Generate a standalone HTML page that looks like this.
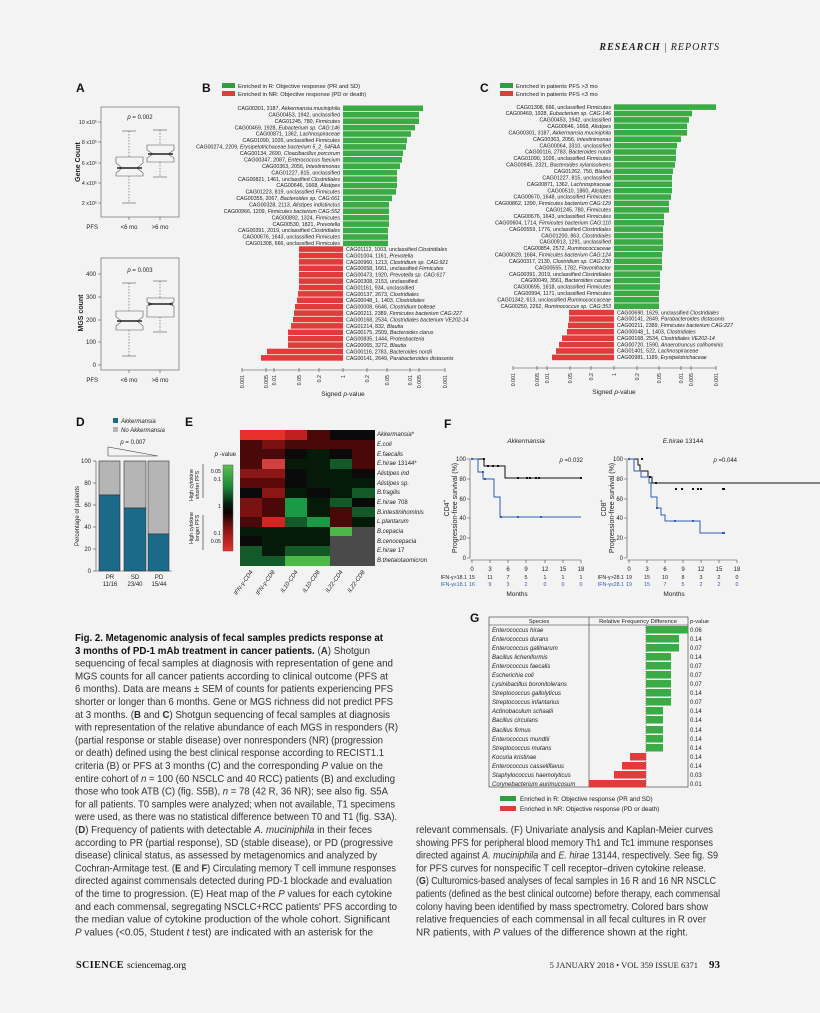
<!DOCTYPE html>
<html><head><meta charset="utf-8"><style>
html,body{margin:0;padding:0;background:#f3f3f3;}
svg{display:block;font-family:"Liberation Sans",sans-serif;}
.s{font-size:5.3px;fill:#222}
.t{font-size:6px;fill:#222}
.c{font-size:10.4px;fill:#333}
.L{font-size:12px;font-weight:bold;fill:#111}
</style></head><body>
<svg width="820" height="1013" viewBox="0 0 820 1013" xmlns="http://www.w3.org/2000/svg">
<rect width="820" height="1013" fill="#f3f3f3"/>
<text x="720" y="50" text-anchor="end" style="font-family:'Liberation Serif',serif;font-size:10px;font-weight:bold;font-style:italic;letter-spacing:1px" fill="#222">RESEARCH <tspan font-weight="normal" font-style="normal">|</tspan> <tspan font-weight="normal">REPORTS</tspan></text>

<!-- Panel labels -->
<text x="76" y="92" class="L">A</text><text x="202" y="92" class="L">B</text><text x="480" y="92" class="L">C</text>
<text x="76" y="426" class="L">D</text><text x="185" y="426" class="L">E</text><text x="444" y="428" class="L">F</text><text x="470" y="622" class="L">G</text>

<!-- Panel A -->
<g stroke="#555" stroke-width="0.6" fill="none">
<rect x="101" y="107" width="78" height="110"/>
<rect x="101" y="258" width="78" height="112"/>
<line x1="98" y1="122" x2="101" y2="122"/><line x1="98" y1="142" x2="101" y2="142"/><line x1="98" y1="163" x2="101" y2="163"/><line x1="98" y1="183" x2="101" y2="183"/><line x1="98" y1="203" x2="101" y2="203"/>
<line x1="98" y1="274" x2="101" y2="274"/><line x1="98" y1="297" x2="101" y2="297"/><line x1="98" y1="320" x2="101" y2="320"/><line x1="98" y1="342" x2="101" y2="342"/><line x1="98" y1="365" x2="101" y2="365"/>
<line x1="129" y1="217" x2="129" y2="220"/><line x1="160" y1="217" x2="160" y2="220"/><line x1="129" y1="370" x2="129" y2="373"/><line x1="160" y1="370" x2="160" y2="373"/>
<line x1="129" y1="131" x2="129" y2="157" stroke-dasharray="1.5,1.5"/><line x1="129" y1="176" x2="129" y2="203" stroke-dasharray="1.5,1.5"/>
<line x1="122" y1="131" x2="136" y2="131"/><line x1="122" y1="203" x2="136" y2="203"/>
<path d="M116 157 H143 V163 L137 168 L143 173 V176 H116 V173 L122 168 L116 163 Z"/>
<line x1="160" y1="130" x2="160" y2="145" stroke-dasharray="1.5,1.5"/><line x1="160" y1="162" x2="160" y2="177" stroke-dasharray="1.5,1.5"/>
<line x1="153" y1="130" x2="167" y2="130"/><line x1="153" y1="177" x2="167" y2="177"/>
<path d="M147 145 H174 V150 L168 154 L174 158 V162 H147 V158 L153 154 L147 150 Z"/>
<line x1="129" y1="283" x2="129" y2="311" stroke-dasharray="1.5,1.5"/><line x1="129" y1="330" x2="129" y2="356" stroke-dasharray="1.5,1.5"/>
<line x1="122" y1="283" x2="136" y2="283"/><line x1="122" y1="356" x2="136" y2="356"/>
<path d="M116 311 H143 V317 L137 321 L143 326 V330 H116 V326 L122 321 L116 317 Z"/>
<line x1="160" y1="281" x2="160" y2="298" stroke-dasharray="1.5,1.5"/><line x1="160" y1="317" x2="160" y2="332" stroke-dasharray="1.5,1.5"/>
<line x1="153" y1="281" x2="167" y2="281"/><line x1="153" y1="332" x2="167" y2="332"/>
<path d="M147 298 H174 V302 L168 304 L174 306 V317 H147 V306 L153 304 L147 302 Z"/>
</g>
<g stroke="#222" stroke-width="1.4"><line x1="117" y1="168" x2="142" y2="168"/><line x1="148" y1="154" x2="173" y2="154"/><line x1="117" y1="321" x2="142" y2="321"/><line x1="148" y1="304" x2="173" y2="304"/></g>
<g class="s" text-anchor="end"><text x="97" y="124">10 x10⁵</text><text x="97" y="144">8 x10⁵</text><text x="97" y="165">6 x10⁵</text><text x="97" y="185">4 x10⁵</text><text x="97" y="205">2 x10⁵</text></g>
<g class="t" text-anchor="end">
<text x="96" y="276">400</text><text x="96" y="299">300</text><text x="96" y="322">200</text><text x="96" y="344">100</text><text x="96" y="367">0</text></g>
<g class="t"><text x="98" y="229" text-anchor="end">PFS</text><text x="129" y="229" text-anchor="middle">&lt;6 mo</text><text x="160" y="229" text-anchor="middle">&gt;6 mo</text>
<text x="98" y="382" text-anchor="end">PFS</text><text x="129" y="382" text-anchor="middle">&lt;6 mo</text><text x="160" y="382" text-anchor="middle">&gt;6 mo</text>
<text x="140" y="119" text-anchor="middle"><tspan font-style="italic">p</tspan> = 0.002</text><text x="140" y="272" text-anchor="middle"><tspan font-style="italic">p</tspan> = 0.003</text></g>
<text transform="translate(80,162) rotate(-90)" text-anchor="middle" style="font-size:7px;font-weight:bold" fill="#222">Gene Count</text>
<text transform="translate(83,313) rotate(-90)" text-anchor="middle" style="font-size:7px;font-weight:bold" fill="#222">MGS count</text>

<!-- Panel B -->
<rect x="222" y="83" width="13" height="5" fill="#2e9e3e"/><rect x="222" y="91" width="13" height="5" fill="#e23b3b"/>
<text x="238" y="88" style="font-size:5.8px" fill="#222">Enriched in R: Objective response (PR and SD)</text>
<text x="238" y="96" style="font-size:5.8px" fill="#222">Enriched in NR: Objective response (PD or death)</text>
<g fill="#3bab45">
<rect x="343" y="105.5" width="80" height="5.6"/><rect x="343" y="111.9" width="76" height="5.6"/><rect x="343" y="118.4" width="76" height="5.6"/><rect x="343" y="124.8" width="72" height="5.6"/><rect x="343" y="131.2" width="68" height="5.6"/><rect x="343" y="137.7" width="64" height="5.6"/><rect x="343" y="144.1" width="63" height="5.6"/><rect x="343" y="150.5" width="60" height="5.6"/><rect x="343" y="157" width="59" height="5.6"/><rect x="343" y="163.4" width="57" height="5.6"/><rect x="343" y="169.8" width="54" height="5.6"/><rect x="343" y="176.3" width="54" height="5.6"/><rect x="343" y="182.7" width="54" height="5.6"/><rect x="343" y="189.1" width="53" height="5.6"/><rect x="343" y="195.6" width="49" height="5.6"/><rect x="343" y="202" width="46" height="5.6"/><rect x="343" y="208.4" width="46" height="5.6"/><rect x="343" y="214.9" width="46" height="5.6"/><rect x="343" y="221.3" width="46" height="5.6"/><rect x="343" y="227.7" width="45" height="5.6"/><rect x="343" y="234.2" width="45" height="5.6"/><rect x="343" y="240.6" width="45" height="5.6"/>
</g>
<g class="s" text-anchor="end">
<text x="340" y="110">CAG00301, 3187, <tspan font-style="italic">Akkermansia muciniphila</tspan></text>
<text x="340" y="116.4">CAG00453, 1942, unclassified</text>
<text x="340" y="122.9">CAG01245, 780, <tspan font-style="italic">Firmicutes</tspan></text>
<text x="340" y="129.3">CAG00469, 1928, <tspan font-style="italic">Eubacterium sp. CAG:146</tspan></text>
<text x="340" y="135.7">CAG00871, 1362, <tspan font-style="italic">Lachnospiraceae</tspan></text>
<text x="340" y="142.2">CAG01090, 1026, unclassified <tspan font-style="italic">Firmicutes</tspan></text>
<text x="340" y="148.6">CAG00274, 2209, <tspan font-style="italic">Erysipelotrichaceae bacterium 5_2_54FAA</tspan></text>
<text x="340" y="155">CAG00134, 2690, <tspan font-style="italic">Cloacibacillus porcorum</tspan></text>
<text x="340" y="161.5">CAG00347, 2087, <tspan font-style="italic">Enterococcus faecium</tspan></text>
<text x="340" y="167.9">CAG00363, 2056, <tspan font-style="italic">Intestinimonas</tspan></text>
<text x="340" y="174.3">CAG01227, 815, unclassified</text>
<text x="340" y="180.8">CAG00821, 1461, unclassified <tspan font-style="italic">Clostridiales</tspan></text>
<text x="340" y="187.2">CAG00646, 1668, <tspan font-style="italic">Alistipes</tspan></text>
<text x="340" y="193.6">CAG01223, 819, unclassified <tspan font-style="italic">Firmicutes</tspan></text>
<text x="340" y="200.1">CAG00355, 2067, <tspan font-style="italic">Bacteroides sp. CAG:661</tspan></text>
<text x="340" y="206.5">CAG00328, 2113, <tspan font-style="italic">Alistipes indistinctus</tspan></text>
<text x="340" y="212.9">CAG00966, 1209, <tspan font-style="italic">Firmicutes bacterium CAG:552</tspan></text>
<text x="340" y="219.4">CAG00892, 1324, <tspan font-style="italic">Firmicutes</tspan></text>
<text x="340" y="225.8">CAG00530, 1821, <tspan font-style="italic">Prevotella</tspan></text>
<text x="340" y="232.2">CAG00391, 2019, unclassified <tspan font-style="italic">Clostridiales</tspan></text>
<text x="340" y="238.7">CAG00676, 1643, unclassified <tspan font-style="italic">Firmicutes</tspan></text>
<text x="340" y="245.1">CAG01308, 666, unclassified <tspan font-style="italic">Firmicutes</tspan></text>
</g>
<g fill="#e23b3b">
<rect x="299" y="246.3" width="44" height="5.6"/><rect x="299" y="252.7" width="44" height="5.6"/><rect x="299" y="259.1" width="44" height="5.6"/><rect x="299" y="265.5" width="44" height="5.6"/><rect x="299" y="271.9" width="44" height="5.6"/><rect x="299" y="278.3" width="44" height="5.6"/><rect x="299" y="284.7" width="44" height="5.6"/><rect x="298" y="291.1" width="45" height="5.6"/><rect x="297" y="297.5" width="46" height="5.6"/><rect x="295" y="303.9" width="48" height="5.6"/><rect x="294" y="310.3" width="49" height="5.6"/><rect x="293" y="316.7" width="50" height="5.6"/><rect x="291" y="323.1" width="52" height="5.6"/><rect x="288" y="329.5" width="55" height="5.6"/><rect x="288" y="335.9" width="55" height="5.6"/><rect x="288" y="342.3" width="55" height="5.6"/><rect x="267" y="348.7" width="76" height="5.6"/><rect x="261" y="355.1" width="82" height="5.6"/>
</g>
<g class="s">
<text x="346" y="251">CAG01112, 1003, unclassified <tspan font-style="italic">Clostridiales</tspan></text>
<text x="346" y="257.4">CAG01004, 1161, <tspan font-style="italic">Prevotella</tspan></text>
<text x="346" y="263.8">CAG00960, 1213, <tspan font-style="italic">Clostridium sp. CAG:921</tspan></text>
<text x="346" y="270.2">CAG00658, 1661, unclassified <tspan font-style="italic">Firmicutes</tspan></text>
<text x="346" y="276.6">CAG00473, 1920, <tspan font-style="italic">Prevotella sp. CAG:617</tspan></text>
<text x="346" y="283">CAG00308, 2153, unclassified</text>
<text x="346" y="289.4">CAG01161, 934, unclassified</text>
<text x="346" y="295.8">CAG00137, 2673, <tspan font-style="italic">Clostridiales</tspan></text>
<text x="346" y="302.2">CAG00048_1, 1403, <tspan font-style="italic">Clostridiales</tspan></text>
<text x="346" y="308.6">CAG00008, 6646, <tspan font-style="italic">Clostridium bolteae</tspan></text>
<text x="346" y="315">CAG00211, 2389, <tspan font-style="italic">Firmicutes bacterium CAG:227</tspan></text>
<text x="346" y="321.4">CAG00168, 2534, <tspan font-style="italic">Clostridiales bacterium VE202-14</tspan></text>
<text x="346" y="327.8">CAG01214, 832, <tspan font-style="italic">Blautia</tspan></text>
<text x="346" y="334.2">CAG00175, 2509, <tspan font-style="italic">Bacteroides clarus</tspan></text>
<text x="346" y="340.6">CAG00835, 1444, <tspan font-style="italic">Proteobacteria</tspan></text>
<text x="346" y="347">CAG00065, 3272, <tspan font-style="italic">Blautia</tspan></text>
<text x="346" y="353.4">CAG00116, 2783, <tspan font-style="italic">Bacteroides nordii</tspan></text>
<text x="346" y="359.8">CAG00141, 2649, <tspan font-style="italic">Parabacteroides distasonis</tspan></text>
</g>
<g stroke="#444" stroke-width="0.6"><line x1="242" y1="370" x2="445" y2="370"/>
<line x1="242" y1="368" x2="242" y2="372"/><line x1="266" y1="368" x2="266" y2="372"/><line x1="274" y1="368" x2="274" y2="372"/><line x1="299" y1="368" x2="299" y2="372"/><line x1="319" y1="368" x2="319" y2="372"/><line x1="343" y1="368" x2="343" y2="372"/><line x1="367" y1="368" x2="367" y2="372"/><line x1="387" y1="368" x2="387" y2="372"/><line x1="410" y1="368" x2="410" y2="372"/><line x1="419" y1="368" x2="419" y2="372"/><line x1="445" y1="368" x2="445" y2="372"/></g>
<g class="s" text-anchor="end">
<text transform="translate(244,375) rotate(-90)">0.001</text><text transform="translate(268,375) rotate(-90)">0.005</text><text transform="translate(276,375) rotate(-90)">0.01</text><text transform="translate(301,375) rotate(-90)">0.05</text><text transform="translate(321,375) rotate(-90)">0.2</text><text transform="translate(345,375) rotate(-90)">1</text><text transform="translate(369,375) rotate(-90)">0.2</text><text transform="translate(389,375) rotate(-90)">0.05</text><text transform="translate(412,375) rotate(-90)">0.01</text><text transform="translate(421,375) rotate(-90)">0.005</text><text transform="translate(447,375) rotate(-90)">0.001</text></g>
<text x="343" y="396" text-anchor="middle" style="font-size:6.5px" fill="#222">Signed <tspan font-style="italic">p</tspan>-value</text>

<!-- Panel C -->
<rect x="500" y="83" width="13" height="5" fill="#2e9e3e"/><rect x="500" y="91" width="13" height="5" fill="#e23b3b"/>
<text x="516" y="88" style="font-size:5.8px" fill="#222">Enriched in patients PFS &gt;3 mo</text>
<text x="516" y="96" style="font-size:5.8px" fill="#222">Enriched in patients PFS &lt;3 mo</text>
<g fill="#3bab45">
<rect x="614" y="104.3" width="102" height="5.6"/><rect x="614" y="110.7" width="78" height="5.6"/><rect x="614" y="117.1" width="75" height="5.6"/><rect x="614" y="123.5" width="73" height="5.6"/><rect x="614" y="130" width="73" height="5.6"/><rect x="614" y="136.4" width="67" height="5.6"/><rect x="614" y="142.8" width="63" height="5.6"/><rect x="614" y="149.2" width="62" height="5.6"/><rect x="614" y="155.7" width="62" height="5.6"/><rect x="614" y="162.1" width="61" height="5.6"/><rect x="614" y="168.5" width="59" height="5.6"/><rect x="614" y="174.9" width="58" height="5.6"/><rect x="614" y="181.4" width="58" height="5.6"/><rect x="614" y="187.8" width="58" height="5.6"/><rect x="614" y="194.2" width="57" height="5.6"/><rect x="614" y="200.6" width="55" height="5.6"/><rect x="614" y="207.1" width="55" height="5.6"/><rect x="614" y="213.5" width="50" height="5.6"/><rect x="614" y="219.9" width="50" height="5.6"/><rect x="614" y="226.3" width="49" height="5.6"/><rect x="614" y="232.8" width="49" height="5.6"/><rect x="614" y="239.2" width="49" height="5.6"/><rect x="614" y="245.6" width="49" height="5.6"/><rect x="614" y="252" width="48" height="5.6"/><rect x="614" y="258.5" width="48" height="5.6"/><rect x="614" y="264.9" width="48" height="5.6"/><rect x="614" y="271.3" width="46" height="5.6"/><rect x="614" y="277.7" width="46" height="5.6"/><rect x="614" y="284.2" width="46" height="5.6"/><rect x="614" y="290.6" width="45" height="5.6"/><rect x="614" y="297" width="45" height="5.6"/><rect x="614" y="303.4" width="45" height="5.6"/>
</g>
<g class="s" text-anchor="end">
<text x="611" y="108.8">CAG01308, 666, unclassified <tspan font-style="italic">Firmicutes</tspan></text>
<text x="611" y="115.2">CAG00469, 1928, <tspan font-style="italic">Eubacterium sp. CAG:146</tspan></text>
<text x="611" y="121.6">CAG00453, 1942, unclassified</text>
<text x="611" y="128">CAG00646, 1668, <tspan font-style="italic">Alistipes</tspan></text>
<text x="611" y="134.5">CAG00301, 3187, <tspan font-style="italic">Akkermansia muciniphila</tspan></text>
<text x="611" y="140.9">CAG00363, 2056, <tspan font-style="italic">Intestinimonas</tspan></text>
<text x="611" y="147.3">CAG00064, 3310, unclassified</text>
<text x="611" y="153.7">CAG00116, 2783, <tspan font-style="italic">Bacteroides nordii</tspan></text>
<text x="611" y="160.2">CAG01090, 1026, unclassified <tspan font-style="italic">Firmicutes</tspan></text>
<text x="611" y="166.6">CAG00945, 2321, <tspan font-style="italic">Bacteroides xylanisolvens</tspan></text>
<text x="611" y="173">CAG01262, 750, <tspan font-style="italic">Blautia</tspan></text>
<text x="611" y="179.4">CAG01227, 815, unclassified</text>
<text x="611" y="185.9">CAG00871, 1362, <tspan font-style="italic">Lachnospiraceae</tspan></text>
<text x="611" y="192.3">CAG00510, 1860, <tspan font-style="italic">Alistipes</tspan></text>
<text x="611" y="198.7">CAG00670, 1648, unclassified <tspan font-style="italic">Firmicutes</tspan></text>
<text x="611" y="205.1">CAG00862, 1390, <tspan font-style="italic">Firmicutes bacterium CAG:129</tspan></text>
<text x="611" y="211.6">CAG01245, 780, <tspan font-style="italic">Firmicutes</tspan></text>
<text x="611" y="218">CAG00676, 1643, unclassified <tspan font-style="italic">Firmicutes</tspan></text>
<text x="611" y="224.4">CAG00604, 1714, <tspan font-style="italic">Firmicutes bacterium CAG:110</tspan></text>
<text x="611" y="230.8">CAG00559, 1776, unclassified <tspan font-style="italic">Clostridiales</tspan></text>
<text x="611" y="237.3">CAG01200, 863, <tspan font-style="italic">Clostridiales</tspan></text>
<text x="611" y="243.7">CAG00913, 1291, unclassified</text>
<text x="611" y="250.1">CAG00854, 2572, <tspan font-style="italic">Ruminococcaceae</tspan></text>
<text x="611" y="256.5">CAG00629, 1684, <tspan font-style="italic">Firmicutes bacterium CAG:124</tspan></text>
<text x="611" y="263">CAG00317, 2130, <tspan font-style="italic">Clostridium sp. CAG:230</tspan></text>
<text x="611" y="269.4">CAG00555, 1782, <tspan font-style="italic">Flavonifractor</tspan></text>
<text x="611" y="275.8">CAG00391, 2019, unclassified <tspan font-style="italic">Clostridiales</tspan></text>
<text x="611" y="282.2">CAG00049, 3561, <tspan font-style="italic">Bacteroides caccae</tspan></text>
<text x="611" y="288.7">CAG00695, 1618, unclassified <tspan font-style="italic">Firmicutes</tspan></text>
<text x="611" y="295.1">CAG00994, 1171, unclassified <tspan font-style="italic">Firmicutes</tspan></text>
<text x="611" y="301.5">CAG01342, 613, unclassified <tspan font-style="italic">Ruminococcaceae</tspan></text>
<text x="611" y="307.9">CAG00250, 2262, <tspan font-style="italic">Ruminococcus sp. CAG:353</tspan></text>
</g>
<g fill="#e23b3b">
<rect x="569" y="309.8" width="45" height="5.6"/><rect x="569" y="316.2" width="45" height="5.6"/><rect x="568" y="322.6" width="46" height="5.6"/><rect x="567" y="329" width="47" height="5.6"/><rect x="562" y="335.4" width="52" height="5.6"/><rect x="559" y="341.8" width="55" height="5.6"/><rect x="556" y="348.2" width="58" height="5.6"/><rect x="552" y="354.6" width="62" height="5.6"/>
</g>
<g class="s">
<text x="617" y="314.3">CAG00690, 1629, unclassified <tspan font-style="italic">Clostridiales</tspan></text>
<text x="617" y="320.7">CAG00141, 2649, <tspan font-style="italic">Parabacteroides distasonis</tspan></text>
<text x="617" y="327.1">CAG00211, 2389, <tspan font-style="italic">Firmicutes bacterium CAG:227</tspan></text>
<text x="617" y="333.5">CAG00048_1, 1403, <tspan font-style="italic">Clostridiales</tspan></text>
<text x="617" y="339.9">CAG00168, 2534, <tspan font-style="italic">Clostridiales VE202-14</tspan></text>
<text x="617" y="346.3">CAG00720, 1590, <tspan font-style="italic">Anaerotruncus colihominis</tspan></text>
<text x="617" y="352.7">CAG01401, 522, <tspan font-style="italic">Lachnospiraceae</tspan></text>
<text x="617" y="359.1">CAG00981, 1189, <tspan font-style="italic">Erysipelotrichaceae</tspan></text>
</g>
<g stroke="#444" stroke-width="0.6"><line x1="513" y1="368" x2="716" y2="368"/>
<line x1="513" y1="366" x2="513" y2="370"/><line x1="537" y1="366" x2="537" y2="370"/><line x1="547" y1="366" x2="547" y2="370"/><line x1="570" y1="366" x2="570" y2="370"/><line x1="591" y1="366" x2="591" y2="370"/><line x1="614" y1="366" x2="614" y2="370"/><line x1="637" y1="366" x2="637" y2="370"/><line x1="659" y1="366" x2="659" y2="370"/><line x1="681" y1="366" x2="681" y2="370"/><line x1="691" y1="366" x2="691" y2="370"/><line x1="716" y1="366" x2="716" y2="370"/></g>
<g class="s" text-anchor="end">
<text transform="translate(515,373) rotate(-90)">0.001</text><text transform="translate(539,373) rotate(-90)">0.005</text><text transform="translate(549,373) rotate(-90)">0.01</text><text transform="translate(572,373) rotate(-90)">0.05</text><text transform="translate(593,373) rotate(-90)">0.2</text><text transform="translate(616,373) rotate(-90)">1</text><text transform="translate(639,373) rotate(-90)">0.2</text><text transform="translate(661,373) rotate(-90)">0.05</text><text transform="translate(683,373) rotate(-90)">0.01</text><text transform="translate(693,373) rotate(-90)">0.005</text><text transform="translate(718,373) rotate(-90)">0.001</text></g>
<text x="614" y="394" text-anchor="middle" style="font-size:6.5px" fill="#222">Signed <tspan font-style="italic">p</tspan>-value</text>

<!-- Panel D -->
<rect x="113" y="418" width="5" height="5" fill="#1b6a8a"/><rect x="113" y="427" width="5" height="5" fill="#b5b5b5"/>
<text x="121" y="423" class="t" font-style="italic">Akkermansia</text><text x="121" y="432" class="t" font-style="italic">No Akkermansia</text>
<text x="133" y="444" class="t" text-anchor="middle"><tspan font-style="italic">p</tspan> = 0.007</text>
<path d="M108 447 L108 456 L158 456 Z" fill="none" stroke="#444" stroke-width="0.6"/>
<g stroke="#444" stroke-width="0.6"><line x1="96" y1="461" x2="96" y2="571"/><line x1="96" y1="571" x2="172" y2="571"/>
<line x1="93" y1="461" x2="96" y2="461"/><line x1="93" y1="483" x2="96" y2="483"/><line x1="93" y1="505" x2="96" y2="505"/><line x1="93" y1="527" x2="96" y2="527"/><line x1="93" y1="549" x2="96" y2="549"/><line x1="93" y1="571" x2="96" y2="571"/></g>
<g stroke="#333" stroke-width="0.6">
<rect x="99" y="461" width="21" height="34" fill="#b5b5b5"/><rect x="99" y="495" width="21" height="76" fill="#1b6a8a"/>
<rect x="124" y="461" width="22" height="47" fill="#b5b5b5"/><rect x="124" y="508" width="22" height="63" fill="#1b6a8a"/>
<rect x="148" y="461" width="21" height="73" fill="#b5b5b5"/><rect x="148" y="534" width="21" height="37" fill="#1b6a8a"/></g>
<g class="t" text-anchor="end"><text x="91" y="463">100</text><text x="91" y="485">80</text><text x="91" y="507">60</text><text x="91" y="529">40</text><text x="91" y="551">20</text><text x="91" y="573">0</text></g>
<text transform="translate(79,516) rotate(-90)" text-anchor="middle" class="t">Percentage of patients</text>
<g class="t" text-anchor="middle"><text x="110" y="579">PR</text><text x="135" y="579">SD</text><text x="159" y="579">PD</text><text x="110" y="586">11/16</text><text x="135" y="586">23/40</text><text x="159" y="586">15/44</text></g>

<!-- Panel E heatmap -->
<g>
<rect x="240" y="430" width="23" height="10" fill="#e8302a"/><rect x="262" y="430" width="23" height="10" fill="#e8302a"/><rect x="285" y="430" width="23" height="10" fill="#c02020"/><rect x="307" y="430" width="23" height="10" fill="#4a0808"/><rect x="330" y="430" width="23" height="10" fill="#0a0a0a"/><rect x="352" y="430" width="23" height="10" fill="#0a0a0a"/>
<rect x="240" y="440" width="23" height="10" fill="#4a0808"/><rect x="262" y="440" width="23" height="10" fill="#7a1010"/><rect x="285" y="440" width="23" height="10" fill="#4a0808"/><rect x="307" y="440" width="23" height="10" fill="#4a0808"/><rect x="330" y="440" width="23" height="10" fill="#4a0808"/><rect x="352" y="440" width="23" height="10" fill="#4a0808"/>
<rect x="240" y="449" width="23" height="10" fill="#4a0808"/><rect x="262" y="449" width="23" height="10" fill="#4a0808"/><rect x="285" y="449" width="23" height="10" fill="#0a0a0a"/><rect x="307" y="449" width="23" height="10" fill="#061a0a"/><rect x="330" y="449" width="23" height="10" fill="#0a0a0a"/><rect x="352" y="449" width="23" height="10" fill="#4a0808"/>
<rect x="240" y="459" width="23" height="10" fill="#4a0808"/><rect x="262" y="459" width="23" height="10" fill="#d04040"/><rect x="285" y="459" width="23" height="10" fill="#061a0a"/><rect x="307" y="459" width="23" height="10" fill="#061a0a"/><rect x="330" y="459" width="23" height="10" fill="#145a28"/><rect x="352" y="459" width="23" height="10" fill="#4a0808"/>
<rect x="240" y="469" width="23" height="10" fill="#8a1616"/><rect x="262" y="469" width="23" height="10" fill="#8a1616"/><rect x="285" y="469" width="23" height="10" fill="#0a0a0a"/><rect x="307" y="469" width="23" height="10" fill="#061a0a"/><rect x="330" y="469" width="23" height="10" fill="#061a0a"/><rect x="352" y="469" width="23" height="10" fill="#0a0a0a"/>
<rect x="240" y="478" width="23" height="10" fill="#5a0a0a"/><rect x="262" y="478" width="23" height="10" fill="#5a0a0a"/><rect x="285" y="478" width="23" height="10" fill="#0a0a0a"/><rect x="307" y="478" width="23" height="10" fill="#061a0a"/><rect x="330" y="478" width="23" height="10" fill="#061a0a"/><rect x="352" y="478" width="23" height="10" fill="#061a0a"/>
<rect x="240" y="488" width="23" height="10" fill="#0a0a0a"/><rect x="262" y="488" width="23" height="10" fill="#8a1616"/><rect x="285" y="488" width="23" height="10" fill="#061a0a"/><rect x="307" y="488" width="23" height="10" fill="#0a0a0a"/><rect x="330" y="488" width="23" height="10" fill="#061a0a"/><rect x="352" y="488" width="23" height="10" fill="#145a28"/>
<rect x="240" y="498" width="23" height="10" fill="#7a1212"/><rect x="262" y="498" width="23" height="10" fill="#4a0808"/><rect x="285" y="498" width="23" height="10" fill="#1a9a44"/><rect x="307" y="498" width="23" height="10" fill="#061a0a"/><rect x="330" y="498" width="23" height="10" fill="#145a28"/><rect x="352" y="498" width="23" height="10" fill="#0a0a0a"/>
<rect x="240" y="507" width="23" height="10" fill="#7a1212"/><rect x="262" y="507" width="23" height="10" fill="#4a0808"/><rect x="285" y="507" width="23" height="10" fill="#1a9a44"/><rect x="307" y="507" width="23" height="10" fill="#061a0a"/><rect x="330" y="507" width="23" height="10" fill="#4a0808"/><rect x="352" y="507" width="23" height="10" fill="#145a28"/>
<rect x="240" y="517" width="23" height="10" fill="#4a0808"/><rect x="262" y="517" width="23" height="10" fill="#d42424"/><rect x="285" y="517" width="23" height="10" fill="#145a28"/><rect x="307" y="517" width="23" height="10" fill="#1a9a44"/><rect x="330" y="517" width="23" height="10" fill="#4a0808"/><rect x="352" y="517" width="23" height="10" fill="#061a0a"/>
<rect x="240" y="527" width="23" height="10" fill="#061a0a"/><rect x="262" y="527" width="23" height="10" fill="#061a0a"/><rect x="285" y="527" width="23" height="10" fill="#061a0a"/><rect x="307" y="527" width="23" height="10" fill="#061a0a"/><rect x="330" y="527" width="23" height="10" fill="#4cb848"/><rect x="352" y="527" width="23" height="10" fill="#4a4a4a"/>
<rect x="240" y="536" width="23" height="10" fill="#0a0a0a"/><rect x="262" y="536" width="23" height="10" fill="#061a0a"/><rect x="285" y="536" width="23" height="10" fill="#061a0a"/><rect x="307" y="536" width="23" height="10" fill="#061a0a"/><rect x="330" y="536" width="23" height="10" fill="#4a4a4a"/><rect x="352" y="536" width="23" height="10" fill="#4a4a4a"/>
<rect x="240" y="546" width="23" height="10" fill="#145a28"/><rect x="262" y="546" width="23" height="10" fill="#061a0a"/><rect x="285" y="546" width="23" height="10" fill="#145a28"/><rect x="307" y="546" width="23" height="10" fill="#145a28"/><rect x="330" y="546" width="23" height="10" fill="#4a4a4a"/><rect x="352" y="546" width="23" height="10" fill="#4a4a4a"/>
<rect x="240" y="556" width="23" height="10" fill="#145a28"/><rect x="262" y="556" width="23" height="10" fill="#145a28"/><rect x="285" y="556" width="23" height="10" fill="#4cb848"/><rect x="307" y="556" width="23" height="10" fill="#4cb848"/><rect x="330" y="556" width="23" height="10" fill="#4a4a4a"/><rect x="352" y="556" width="23" height="10" fill="#4a4a4a"/>
</g>
<g class="t" font-style="italic">
<text x="377" y="436">Akkermansia<tspan font-style="normal">*</tspan></text><text x="377" y="446">E.coli</text><text x="377" y="456">E.faecalis</text><text x="377" y="465">E.hirae <tspan font-style="normal">13144*</tspan></text><text x="377" y="475">Alistipes ind</text><text x="377" y="485">Alistipes sp.</text><text x="377" y="494">B.fragilis</text><text x="377" y="504">E.hirae <tspan font-style="normal">708</tspan></text><text x="377" y="514">B.intestinihominis</text><text x="377" y="523">L.plantarum</text><text x="377" y="533">B.cepacia</text><text x="377" y="543">B.cenocepacia</text><text x="377" y="552">E.hirae <tspan font-style="normal">17</tspan></text><text x="377" y="562">B.thetaiotaomicron</text></g>
<g class="t" text-anchor="end" font-style="italic">
<text transform="translate(253,572) rotate(-55)">IFN-γ-CD4</text><text transform="translate(275,572) rotate(-55)">IFN-γ-CD8</text><text transform="translate(298,572) rotate(-55)">IL10-CD4</text><text transform="translate(320,572) rotate(-55)">IL10-CD8</text><text transform="translate(343,572) rotate(-55)">IL22-CD4</text><text transform="translate(365,572) rotate(-55)">IL22-CD8</text></g>
<!-- color scale -->
<defs><linearGradient id="cs" x1="0" y1="0" x2="0" y2="1"><stop offset="0" stop-color="#5cc050"/><stop offset="0.25" stop-color="#1a8a3a"/><stop offset="0.45" stop-color="#062010"/><stop offset="0.55" stop-color="#100000"/><stop offset="0.75" stop-color="#8a1414"/><stop offset="1" stop-color="#e83030"/></linearGradient></defs>
<rect x="223" y="465" width="10" height="86" fill="url(#cs)" stroke="#555" stroke-width="0.5"/>
<text x="236" y="456" class="t" text-anchor="end"><tspan font-style="italic">p</tspan> -value</text>
<g class="s" text-anchor="end"><text x="221" y="473">0.05</text><text x="221" y="481">0.1</text><text x="221" y="508">1</text><text x="221" y="535">0.1</text><text x="221" y="543">0.05</text></g>
<text transform="translate(193,485) rotate(-90)" text-anchor="middle" style="font-size:5.3px" fill="#222">High cytokine</text>
<text transform="translate(199,485) rotate(-90)" text-anchor="middle" style="font-size:5.3px" fill="#222">shorter PFS</text>
<text transform="translate(193,528) rotate(-90)" text-anchor="middle" style="font-size:5.3px" fill="#222">High cytokine</text>
<text transform="translate(199,528) rotate(-90)" text-anchor="middle" style="font-size:5.3px" fill="#222">longer PFS</text>
<g stroke="#222" stroke-width="0.6"><line x1="203" y1="464" x2="203" y2="498"/><line x1="203" y1="515" x2="203" y2="550"/></g>

<!-- Panel F -->
<text x="526" y="443" text-anchor="middle" class="t" font-style="italic" style="font-size:6.5px">Akkermansia</text>
<text x="683" y="443" text-anchor="middle" class="t" style="font-size:6.5px"><tspan font-style="italic">E.hirae</tspan> 13144</text>
<g stroke="#444" stroke-width="0.6" fill="none">
<line x1="470" y1="459" x2="470" y2="558"/><line x1="470" y1="560" x2="581" y2="560"/>
<line x1="627" y1="459" x2="627" y2="558"/><line x1="627" y1="560" x2="737" y2="560"/>
<path d="M467 459h3M467 479h3M467 499h3M467 518h3M467 538h3M467 558h3M624 459h3M624 479h3M624 499h3M624 518h3M624 538h3M624 558h3"/>
<path d="M472 560v3M490 560v3M508 560v3M526 560v3M545 560v3M563 560v3M581 560v3M629 560v3M647 560v3M665 560v3M683 560v3M701 560v3M719 560v3M737 560v3"/>
</g>
<path d="M472 459 H484 V466 H505 V478 H581" fill="none" stroke="#111" stroke-width="1"/>
<path d="M472 459 H478 V472 H483 V479 H494 V497 H500 V517 H581" fill="none" stroke="#2b5fb0" stroke-width="1"/>
<path d="M472 459 H481 V465 H483 V471 H491 V477 H495 V483 H661 V483 H725" fill="none" stroke="#111" stroke-width="1" transform="translate(157,0)"/>
<path d="M629 459 H634 V471 H641 V477 H649 V483 H651 V497 H657 V508 H661 V515 H665 V521 H700 V533 H725" fill="none" stroke="#2b5fb0" stroke-width="1"/>
<g fill="#111"><rect x="483" y="458" width="2" height="2"/><rect x="487" y="465" width="2" height="2"/><rect x="492" y="465" width="2" height="2"/><rect x="497" y="465" width="2" height="2"/><rect x="517" y="477" width="2" height="2"/><rect x="526" y="477" width="2" height="2"/><rect x="529" y="477" width="2" height="2"/><rect x="535" y="477" width="2" height="2"/><rect x="538" y="477" width="2" height="2"/><rect x="580" y="477" width="2" height="2"/>
<rect x="641" y="458" width="2" height="2"/><rect x="649" y="476" width="2" height="2"/><rect x="655" y="482" width="2" height="2"/><rect x="675" y="488" width="2" height="2"/><rect x="681" y="488" width="2" height="2"/><rect x="692" y="488" width="2" height="2"/><rect x="697" y="488" width="2" height="2"/><rect x="700" y="488" width="2" height="2"/><rect x="722" y="488" width="3" height="2"/></g>
<g fill="#2b5fb0"><rect x="471" y="458" width="2" height="2"/><rect x="482" y="471" width="2" height="2"/><rect x="484" y="478" width="2" height="2"/><rect x="500" y="516" width="2" height="2"/><rect x="517" y="516" width="2" height="2"/><rect x="540" y="516" width="2" height="2"/><rect x="628" y="458" width="2" height="2"/><rect x="656" y="507" width="2" height="2"/><rect x="674" y="520" width="2" height="2"/><rect x="692" y="520" width="2" height="2"/><rect x="722" y="532" width="3" height="2"/></g>
<g class="t" text-anchor="end"><text x="466" y="461">100</text><text x="466" y="481">80</text><text x="466" y="501">60</text><text x="466" y="520">40</text><text x="466" y="540">20</text><text x="466" y="560">0</text>
<text x="623" y="461">100</text><text x="623" y="481">80</text><text x="623" y="501">60</text><text x="623" y="520">40</text><text x="623" y="540">20</text><text x="623" y="560">0</text></g>
<text x="583" y="462" class="t" text-anchor="end"><tspan font-style="italic">p</tspan> =0.032</text>
<text x="737" y="462" class="t" text-anchor="end"><tspan font-style="italic">p</tspan> =0.044</text>
<text transform="translate(449,508) rotate(-90)" text-anchor="middle" style="font-size:7px" fill="#222">CD4<tspan dy="-3" font-size="5">+</tspan></text>
<text transform="translate(457,508) rotate(-90)" text-anchor="middle" style="font-size:7px" fill="#222">Progression-free survival (%)</text>
<text transform="translate(606,508) rotate(-90)" text-anchor="middle" style="font-size:7px" fill="#222">CD8<tspan dy="-3" font-size="5">+</tspan></text>
<text transform="translate(614,508) rotate(-90)" text-anchor="middle" style="font-size:7px" fill="#222">Progression-free survival (%)</text>
<g class="t" text-anchor="middle"><text x="472" y="571">0</text><text x="490" y="571">3</text><text x="508" y="571">6</text><text x="526" y="571">9</text><text x="545" y="571">12</text><text x="563" y="571">15</text><text x="581" y="571">18</text>
<text x="629" y="571">0</text><text x="647" y="571">3</text><text x="665" y="571">6</text><text x="683" y="571">9</text><text x="701" y="571">12</text><text x="719" y="571">15</text><text x="737" y="571">18</text></g>
<g style="font-size:5.3px" text-anchor="middle" fill="#222"><text x="472" y="579">15</text><text x="490" y="579">11</text><text x="508" y="579">7</text><text x="526" y="579">5</text><text x="545" y="579">1</text><text x="563" y="579">1</text><text x="581" y="579">1</text>
<text x="629" y="579">19</text><text x="647" y="579">15</text><text x="665" y="579">10</text><text x="683" y="579">8</text><text x="701" y="579">3</text><text x="719" y="579">2</text><text x="737" y="579">0</text></g>
<g style="font-size:5.3px" text-anchor="middle" fill="#2b5fb0"><text x="472" y="586">16</text><text x="490" y="586">9</text><text x="508" y="586">3</text><text x="526" y="586">2</text><text x="545" y="586">0</text><text x="563" y="586">0</text><text x="581" y="586">0</text>
<text x="629" y="586">19</text><text x="647" y="586">15</text><text x="665" y="586">7</text><text x="683" y="586">5</text><text x="701" y="586">2</text><text x="719" y="586">2</text><text x="737" y="586">0</text></g>
<text x="467" y="579" style="font-size:5.3px" text-anchor="end" fill="#222">IFN-γ&gt;18.1</text><text x="467" y="586" style="font-size:5.3px" text-anchor="end" fill="#2b5fb0">IFN-γ≤18.1</text>
<text x="624" y="579" style="font-size:5.3px" text-anchor="end" fill="#222">IFN-γ&gt;28.1</text><text x="624" y="586" style="font-size:5.3px" text-anchor="end" fill="#2b5fb0">IFN-γ≤28.1</text>
<text x="517" y="596" class="t" text-anchor="middle" style="font-size:6.5px">Months</text><text x="674" y="596" class="t" text-anchor="middle" style="font-size:6.5px">Months</text>

<!-- Panel G -->
<g stroke="#333" stroke-width="0.6" fill="none"><rect x="489" y="617" width="199" height="170"/><line x1="489" y1="625" x2="688" y2="625"/><line x1="589" y1="617" x2="589" y2="787"/><line x1="646" y1="625" x2="646" y2="787" stroke-dasharray="1,1"/></g>
<text x="539" y="623" class="t" text-anchor="middle" style="font-size:5.8px">Species</text>
<text x="638" y="623" class="t" text-anchor="middle" style="font-size:5.8px">Relative Frequency Difference</text>
<text x="690" y="623" class="t" style="font-size:5.8px">p-value</text>
<g fill="#3bab45"><rect x="646" y="626" width="42" height="7.5"/><rect x="646" y="635" width="33" height="7.5"/><rect x="646" y="644" width="33" height="7.5"/><rect x="646" y="653" width="25" height="7.5"/><rect x="646" y="662" width="25" height="7.5"/><rect x="646" y="671" width="25" height="7.5"/><rect x="646" y="680" width="25" height="7.5"/><rect x="646" y="689" width="25" height="7.5"/><rect x="646" y="698" width="25" height="7.5"/><rect x="646" y="707" width="17" height="7.5"/><rect x="646" y="716" width="17" height="7.5"/><rect x="646" y="726" width="17" height="7.5"/><rect x="646" y="735" width="17" height="7.5"/><rect x="646" y="744" width="17" height="7.5"/></g>
<g fill="#e23b3b"><rect x="630" y="753" width="16" height="7.5"/><rect x="622" y="762" width="24" height="7.5"/><rect x="614" y="771" width="32" height="7.5"/><rect x="589" y="780" width="57" height="7.5"/></g>
<g style="font-size:6px;font-style:italic" fill="#222">
<text x="492" y="632">Enterococcus hirae</text><text x="492" y="641">Enterococcus durans</text><text x="492" y="650">Enterococcus gallinarum</text><text x="492" y="659">Bacillus licheniformis</text><text x="492" y="668">Enterococcus faecalis</text><text x="492" y="677">Escherichia coli</text><text x="492" y="686">Lysinibacillus boronitolerans</text><text x="492" y="695">Streptococcus gallolyticus</text><text x="492" y="704">Streptococcus infantarius</text><text x="492" y="713">Actinobaculum schaalii</text><text x="492" y="722">Bacillus circulans</text><text x="492" y="732">Bacillus firmus</text><text x="492" y="741">Enterococcus mundtii</text><text x="492" y="750">Streptococcus mutans</text><text x="492" y="759">Kocuria kristinae</text><text x="492" y="768">Enterococcus casseliflavus</text><text x="492" y="777">Staphylococcus haemolyticus</text><text x="492" y="786">Corynebacterium aurimucosum</text></g>
<g style="font-size:6px" fill="#222">
<text x="690" y="632">0.06</text><text x="690" y="641">0.14</text><text x="690" y="650">0.07</text><text x="690" y="659">0.14</text><text x="690" y="668">0.07</text><text x="690" y="677">0.07</text><text x="690" y="686">0.07</text><text x="690" y="695">0.14</text><text x="690" y="704">0.07</text><text x="690" y="713">0.14</text><text x="690" y="722">0.14</text><text x="690" y="732">0.14</text><text x="690" y="741">0.14</text><text x="690" y="750">0.14</text><text x="690" y="759">0.14</text><text x="690" y="768">0.14</text><text x="690" y="777">0.03</text><text x="690" y="786">0.01</text></g>
<rect x="500" y="796" width="16" height="5" fill="#2e9e3e"/><rect x="500" y="806" width="16" height="5" fill="#e23b3b"/>
<text x="520" y="801" style="font-size:6.3px" fill="#222">Enriched in R: Objective response (PR and SD)</text>
<text x="520" y="811" style="font-size:6.3px" fill="#222">Enriched in NR: Objective response (PD or death)</text>

<!-- Caption left -->
<g class="c">
<text x="75" y="641" font-weight="bold" fill="#111" textLength="308" lengthAdjust="spacingAndGlyphs">Fig. 2. Metagenomic analysis of fecal samples predicts response at</text>
<text x="75" y="653.8" textLength="295" lengthAdjust="spacingAndGlyphs"><tspan font-weight="bold" fill="#111">3 months of PD-1 mAb treatment in cancer patients.</tspan> (<tspan font-weight="bold">A</tspan>) Shotgun</text>
<text x="75" y="666.6" textLength="318" lengthAdjust="spacingAndGlyphs">sequencing of fecal samples at diagnosis with representation of gene and</text>
<text x="75" y="679.4" textLength="313" lengthAdjust="spacingAndGlyphs">MGS counts for all cancer patients according to clinical outcome (PFS at</text>
<text x="75" y="692.2" textLength="318" lengthAdjust="spacingAndGlyphs">6 months). Data are means ± SEM of counts for patients experiencing PFS</text>
<text x="75" y="705" textLength="318" lengthAdjust="spacingAndGlyphs">shorter or longer than 6 months. Gene or MGS richness did not predict PFS</text>
<text x="75" y="717.8" textLength="315" lengthAdjust="spacingAndGlyphs">at 3 months. (<tspan font-weight="bold">B</tspan> and <tspan font-weight="bold">C</tspan>) Shotgun sequencing of fecal samples at diagnosis</text>
<text x="75" y="730.6" textLength="323" lengthAdjust="spacingAndGlyphs">with representation of the relative abundance of each MGS in responders (R)</text>
<text x="75" y="743.4" textLength="308" lengthAdjust="spacingAndGlyphs">(partial response or stable disease) over nonresponders (NR) (progression</text>
<text x="75" y="756.2" textLength="309" lengthAdjust="spacingAndGlyphs">or death) defined using the best clinical response according to RECIST1.1</text>
<text x="75" y="769" textLength="308" lengthAdjust="spacingAndGlyphs">criteria (B) or PFS at 3 months (C) and the corresponding <tspan font-style="italic">P</tspan> value on the</text>
<text x="75" y="781.8" textLength="320" lengthAdjust="spacingAndGlyphs">entire cohort of <tspan font-style="italic">n</tspan> = 100 (60 NSCLC and 40 RCC) patients (B) and excluding</text>
<text x="75" y="794.6" textLength="313" lengthAdjust="spacingAndGlyphs">those who took ATB (C) (fig. S5B), <tspan font-style="italic">n</tspan> = 78 (42 R, 36 NR); see also fig. S5A</text>
<text x="75" y="807.4" textLength="320" lengthAdjust="spacingAndGlyphs">for all patients. T0 samples were analyzed; when not available, T1 specimens</text>
<text x="75" y="820.2" textLength="322" lengthAdjust="spacingAndGlyphs">were used, as there was no statistical difference between T0 and T1 (fig. S3A).</text>
<text x="75" y="833" textLength="297" lengthAdjust="spacingAndGlyphs">(<tspan font-weight="bold">D</tspan>) Frequency of patients with detectable <tspan font-style="italic">A. muciniphila</tspan> in their feces</text>
<text x="75" y="845.8" textLength="318" lengthAdjust="spacingAndGlyphs">according to PR (partial response), SD (stable disease), or PD (progressive</text>
<text x="75" y="858.6" textLength="302" lengthAdjust="spacingAndGlyphs">disease) clinical status, as assessed by metagenomics and analyzed by</text>
<text x="75" y="871.4" textLength="321" lengthAdjust="spacingAndGlyphs">Cochran-Armitage test. (<tspan font-weight="bold">E</tspan> and <tspan font-weight="bold">F</tspan>) Circulating memory T cell immune responses</text>
<text x="75" y="884.2" textLength="317" lengthAdjust="spacingAndGlyphs">directed against commensals detected during PD-1 blockade and evaluation</text>
<text x="75" y="897" textLength="317" lengthAdjust="spacingAndGlyphs">of the time to progression. (E) Heat map of the <tspan font-style="italic">P</tspan> values for each cytokine</text>
<text x="75" y="909.8" textLength="322" lengthAdjust="spacingAndGlyphs">and each commensal, segregating NSCLC+RCC patients' PFS according to</text>
<text x="75" y="922.6" textLength="315" lengthAdjust="spacingAndGlyphs">the median value of cytokine production of the whole cohort. Significant</text>
<text x="75" y="935.4" textLength="298" lengthAdjust="spacingAndGlyphs"><tspan font-style="italic">P</tspan> values (&lt;0.05, Student <tspan font-style="italic">t</tspan> test) are indicated with an asterisk for the</text>
</g>
<!-- Caption right -->
<g class="c">
<text x="416" y="833" textLength="297" lengthAdjust="spacingAndGlyphs">relevant commensals. (F) Univariate analysis and Kaplan-Meier curves</text>
<text x="416" y="845.8" textLength="297" lengthAdjust="spacingAndGlyphs">showing PFS for peripheral blood memory Th1 and Tc1 immune responses</text>
<text x="416" y="858.6" textLength="302" lengthAdjust="spacingAndGlyphs">directed against <tspan font-style="italic">A. muciniphila</tspan> and <tspan font-style="italic">E. hirae</tspan> 13144, respectively. See fig. S9</text>
<text x="416" y="871.4" textLength="290" lengthAdjust="spacingAndGlyphs">for PFS curves for nonspecific T cell receptor–driven cytokine release.</text>
<text x="416" y="884.2" textLength="300" lengthAdjust="spacingAndGlyphs">(<tspan font-weight="bold">G</tspan>) Culturomics-based analyses of fecal samples in 16 R and 16 NR NSCLC</text>
<text x="416" y="897" textLength="304" lengthAdjust="spacingAndGlyphs">patients (defined as the best clinical outcome) before therapy, each commensal</text>
<text x="416" y="909.8" textLength="292" lengthAdjust="spacingAndGlyphs">colony having been identified by mass spectrometry. Colored bars show</text>
<text x="416" y="922.6" textLength="290" lengthAdjust="spacingAndGlyphs">relative frequencies of each commensal in all fecal cultures in R over</text>
<text x="416" y="935.4" textLength="272" lengthAdjust="spacingAndGlyphs">NR patients, with <tspan font-style="italic">P</tspan> values of the difference shown at the right.</text>
</g>

<!-- Footer -->
<text x="76" y="968" style="font-family:'Liberation Serif',serif;font-size:10px;font-weight:bold;letter-spacing:0.5px" fill="#111">SCIENCE <tspan font-weight="normal" font-size="9.5" letter-spacing="0">sciencemag.org</tspan></text>
<text x="698" y="968" text-anchor="end" style="font-family:'Liberation Serif',serif;font-size:8.5px" fill="#222">5 JANUARY 2018 • VOL 359 ISSUE 6371</text>
<text x="720" y="968" text-anchor="end" style="font-family:'Liberation Serif',serif;font-size:11px;font-weight:bold" fill="#111">93</text>
</svg>
</body></html>
